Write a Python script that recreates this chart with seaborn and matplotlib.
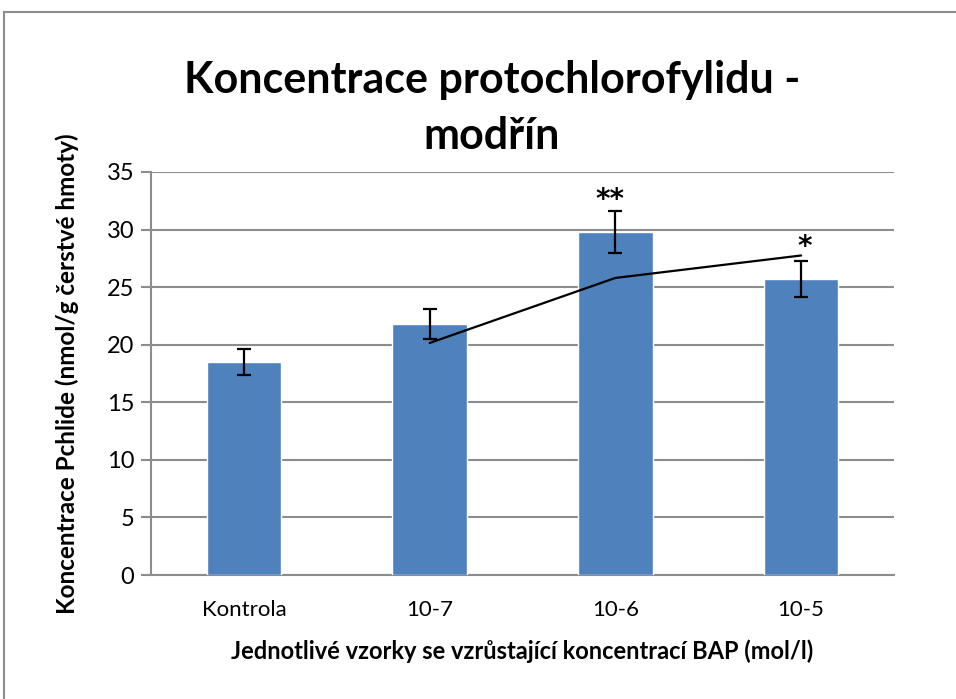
import numpy as np
import pandas as pd
import matplotlib
matplotlib.use("Agg")
import matplotlib.pyplot as plt
import seaborn as sns
from matplotlib.patches import Rectangle

# values
samples = ["Kontrola", "10-7", "10-6", "10-5"]
pchlide = [18.5, 21.8, 29.8, 25.7]
errors = [1.1, 1.3, 1.8, 1.55]
stars = ["", "", "**", "*"]

df = pd.DataFrame({"sample": samples, "pchlide": pchlide, "err": errors})
# Excel-style 2-period moving average trendline
df["trend"] = df["pchlide"].rolling(2).mean()

sns.set_style("white")
plt.rcParams["font.family"] = ["Lato", "DejaVu Sans"]
plt.rcParams["text.color"] = "black"
plt.rcParams["xtick.color"] = "black"
plt.rcParams["ytick.color"] = "black"
plt.rcParams["axes.labelcolor"] = "black"

fig = plt.figure(figsize=(9.56, 6.99), dpi=100)
ax = fig.add_axes([151 / 956, 1 - 575 / 699, (894 - 151) / 956, (575 - 172) / 699])

sns.barplot(data=df, x="sample", y="pchlide", color="#4F81BD", width=0.4,
            saturation=1, ax=ax, zorder=3)
ax.errorbar(np.arange(len(samples)), df["pchlide"], yerr=df["err"], fmt="none",
            ecolor="black", elinewidth=1.6, capsize=5, capthick=1.6, zorder=4)
ax.plot(np.arange(len(samples)), df["trend"], color="black", lw=1.6, zorder=5)

for i, s in enumerate(stars):
    if s:
        off = 0.95 if len(s) > 1 else 1.2
        ax.text(i - 0.05 * (len(s) - 1) + 0.02, df["pchlide"][i] + df["err"][i] + off, s,
                ha="center", va="center", fontsize=20, fontweight="bold",
                family="DejaVu Sans")

ax.set_ylim(0, 35)
ax.set_xlim(-0.5, 3.5)
ax.set_yticks(np.arange(0, 36, 5))
ax.yaxis.grid(True, color="#8C8C8C", lw=1.5, zorder=0)
ax.set_axisbelow(True)
for side in ["top", "right"]:
    ax.spines[side].set_visible(False)
for side in ["left", "bottom"]:
    ax.spines[side].set_color("#8C8C8C")
    ax.spines[side].set_linewidth(1.5)

ax.set_xticks(np.arange(-0.5, 4, 1), minor=True)
ax.tick_params(axis="x", which="major", length=0, pad=18, labelsize=16)
ax.tick_params(axis="x", which="minor", length=7, width=1.5, color="#8C8C8C", direction="out")
ax.tick_params(axis="y", length=7, width=1.5, color="#8C8C8C", direction="out",
               labelsize=17, left=True, pad=5)

ax.set_xlabel("Jednotlivé vzorky se vzrůstající koncentrací BAP (mol/l)",
              fontsize=17, fontweight="bold", labelpad=14)
ax.set_ylabel("Koncentrace Pchlide (nmol/g čerstvé hmoty)",
              fontsize=17.5, fontweight="bold", labelpad=20)

fig.text(492 / 956, 1 - 108 / 699, "Koncentrace protochlorofylidu -\nmodřín",
         ha="center", va="center", fontsize=31, fontweight="bold", linespacing=1.5)

fig.patches.append(Rectangle((4 / 956, -0.05), 1.2, 1 - 12 / 699 + 0.05,
                             transform=fig.transFigure, fill=False,
                             edgecolor="#8C8C8C", lw=1.5))

fig.savefig("out.png", dpi=100)
